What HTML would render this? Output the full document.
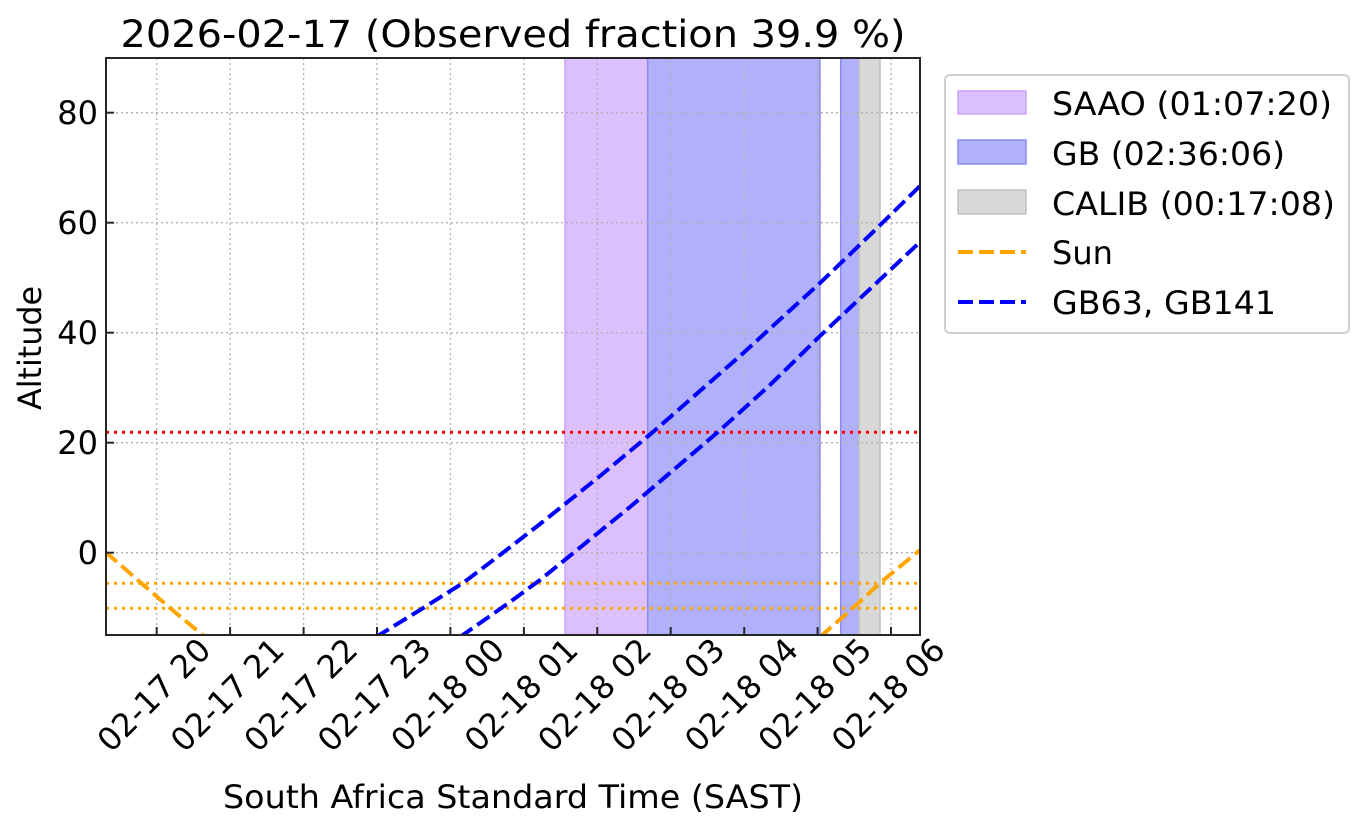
<!DOCTYPE html>
<html><head><meta charset="utf-8"><style>
html,body{margin:0;padding:0;background:#fff;}
svg{display:block;font-family:"DejaVu Sans","Liberation Sans",sans-serif;}
</style></head><body>
<svg width="1363" height="829" viewBox="0 0 1363 829" xmlns="http://www.w3.org/2000/svg">
<rect width="1363" height="829" fill="#fff"/>
<defs><clipPath id="c"><rect x="106" y="58" width="814" height="577"/></clipPath></defs>
<rect x="565" y="58" width="82.7" height="577" fill="#dcc0fc" stroke="#c9a4f7" stroke-width="1.5"/>
<rect x="647.7" y="58" width="172.3" height="577" fill="#b1b1fb" stroke="#8b8bf0" stroke-width="1.5"/>
<rect x="840.7" y="58" width="18.3" height="577" fill="#b1b1fb" stroke="#8b8bf0" stroke-width="1.5"/>
<rect x="859" y="58" width="21" height="577" fill="#d8d8d8" stroke="#c0c0c0" stroke-width="1.5"/>
<g stroke="#b0b0b0" stroke-width="1.3" stroke-dasharray="2,3">
<line x1="156.7" y1="58" x2="156.7" y2="635"/><line x1="230.1" y1="58" x2="230.1" y2="635"/>
<line x1="303.6" y1="58" x2="303.6" y2="635"/><line x1="377" y1="58" x2="377" y2="635"/>
<line x1="450.4" y1="58" x2="450.4" y2="635"/><line x1="523.9" y1="58" x2="523.9" y2="635"/>
<line x1="597.3" y1="58" x2="597.3" y2="635"/><line x1="670.7" y1="58" x2="670.7" y2="635"/>
<line x1="744.2" y1="58" x2="744.2" y2="635"/><line x1="817.6" y1="58" x2="817.6" y2="635"/>
<line x1="891" y1="58" x2="891" y2="635"/>
<line x1="106" y1="112.7" x2="920" y2="112.7"/><line x1="106" y1="222.7" x2="920" y2="222.7"/>
<line x1="106" y1="332.7" x2="920" y2="332.7"/><line x1="106" y1="442.7" x2="920" y2="442.7"/>
<line x1="106" y1="552.7" x2="920" y2="552.7"/>
</g>
<line x1="106" y1="432.3" x2="920" y2="432.3" stroke="#ff0000" stroke-width="3" stroke-dasharray="3,5"/>
<line x1="106" y1="583.3" x2="920" y2="583.3" stroke="#ffa500" stroke-width="3" stroke-dasharray="3,5"/>
<line x1="106" y1="608.3" x2="920" y2="608.3" stroke="#ffa500" stroke-width="3" stroke-dasharray="3,5"/>
<g clip-path="url(#c)" fill="none" stroke-width="4" stroke-dasharray="15,6">
<path d="M105.5,552 L170,608 L205,637" stroke="#ffa500"/>
<path d="M820,637 L853,608 L880,583 L920,550" stroke="#ffa500"/>
<polyline points="376,637 420,610 463,583 500,555 540,524 600,476 653,432 740,356 820,283 870,235 920,186" stroke="#0000ff"/>
<polyline points="460,637 510,602 540,580 630,507 718,432 770,385 820,336 870,289 920,242" stroke="#0000ff"/>
</g>
<rect x="106" y="58" width="814" height="577" fill="none" stroke="#262626" stroke-width="2"/>
<g stroke="#262626" stroke-width="2">
<line x1="156.7" y1="635" x2="156.7" y2="627"/><line x1="230.1" y1="635" x2="230.1" y2="627"/>
<line x1="303.6" y1="635" x2="303.6" y2="627"/><line x1="377" y1="635" x2="377" y2="627"/>
<line x1="450.4" y1="635" x2="450.4" y2="627"/><line x1="523.9" y1="635" x2="523.9" y2="627"/>
<line x1="597.3" y1="635" x2="597.3" y2="627"/><line x1="670.7" y1="635" x2="670.7" y2="627"/>
<line x1="744.2" y1="635" x2="744.2" y2="627"/><line x1="817.6" y1="635" x2="817.6" y2="627"/>
<line x1="891" y1="635" x2="891" y2="627"/>
<line x1="106" y1="112.7" x2="114" y2="112.7"/><line x1="106" y1="222.7" x2="114" y2="222.7"/>
<line x1="106" y1="332.7" x2="114" y2="332.7"/><line x1="106" y1="442.7" x2="114" y2="442.7"/>
<line x1="106" y1="552.7" x2="114" y2="552.7"/>
</g>
<g font-size="32" fill="#000" text-anchor="end">
<text x="98" y="124">80</text><text x="98" y="234">60</text><text x="98" y="344">40</text>
<text x="98" y="454">20</text><text x="98" y="564">0</text>
</g>
<g font-size="32" fill="#000" text-anchor="middle">
<text transform="translate(154,695) rotate(-45)" dy="11">02-17 20</text>
<text transform="translate(227.4,695) rotate(-45)" dy="11">02-17 21</text>
<text transform="translate(300.9,695) rotate(-45)" dy="11">02-17 22</text>
<text transform="translate(374.3,695) rotate(-45)" dy="11">02-17 23</text>
<text transform="translate(447.7,695) rotate(-45)" dy="11">02-18 00</text>
<text transform="translate(521.2,695) rotate(-45)" dy="11">02-18 01</text>
<text transform="translate(594.6,695) rotate(-45)" dy="11">02-18 02</text>
<text transform="translate(668,695) rotate(-45)" dy="11">02-18 03</text>
<text transform="translate(741.5,695) rotate(-45)" dy="11">02-18 04</text>
<text transform="translate(814.9,695) rotate(-45)" dy="11">02-18 05</text>
<text transform="translate(888.3,695) rotate(-45)" dy="11">02-18 06</text>
</g>
<text x="513" y="808" font-size="32" text-anchor="middle" textLength="580" lengthAdjust="spacingAndGlyphs">South Africa Standard Time (SAST)</text>
<text transform="translate(41,348) rotate(-90)" font-size="32" text-anchor="middle" textLength="124" lengthAdjust="spacingAndGlyphs">Altitude</text>
<text x="513" y="47" font-size="37" text-anchor="middle" textLength="785" lengthAdjust="spacingAndGlyphs">2026-02-17 (Observed fraction 39.9 %)</text>
<rect x="945" y="75" width="404" height="258" rx="5" fill="#fff" stroke="#d0d0d0" stroke-width="2"/>
<rect x="958" y="91" width="68" height="23" fill="#dcc0fc" stroke="#c9a4f7" stroke-width="1.5"/>
<rect x="958" y="140" width="68" height="24" fill="#b1b1fb" stroke="#8b8bf0" stroke-width="1.5"/>
<rect x="958" y="190" width="68" height="24" fill="#d8d8d8" stroke="#c0c0c0" stroke-width="1.5"/>
<line x1="958" y1="252" x2="1026" y2="252" stroke="#ffa500" stroke-width="4" stroke-dasharray="15,6"/>
<line x1="958" y1="302" x2="1026" y2="302" stroke="#0000ff" stroke-width="4" stroke-dasharray="15,6"/>
<g font-size="32" fill="#000">
<text x="1052" y="115" textLength="280" lengthAdjust="spacingAndGlyphs">SAAO (01:07:20)</text>
<text x="1052" y="165" textLength="233" lengthAdjust="spacingAndGlyphs">GB (02:36:06)</text>
<text x="1052" y="215" textLength="283" lengthAdjust="spacingAndGlyphs">CALIB (00:17:08)</text>
<text x="1052" y="264">Sun</text>
<text x="1052" y="314" textLength="224" lengthAdjust="spacingAndGlyphs">GB63, GB141</text>
</g>
</svg>
</body></html>
